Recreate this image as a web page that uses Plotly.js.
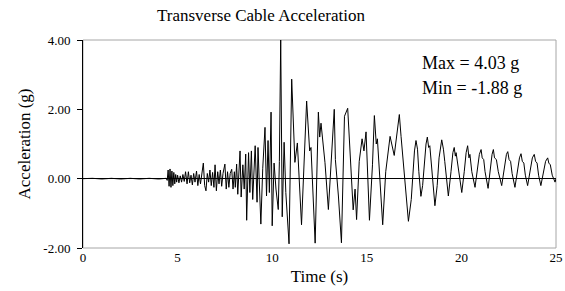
<!DOCTYPE html>
<html>
<head>
<meta charset="utf-8">
<script src="https://cdn.plot.ly/plotly-3.0.1.min.js"></script>
<style>html,body{margin:0;padding:0;background:#fff;}#chart{width:565px;height:291px;}</style>
</head>
<body>
<div id="chart"></div>
<script>
// Time (s) and transverse cable acceleration (g)
const timeS = [
  0, 0.5, 1.0, 1.5, 2.0, 2.5, 3.0, 3.5, 4.0, 4.4,
  4.45, 4.5, 4.55, 4.6, 4.65, 4.7, 4.75, 4.8, 4.85, 4.9, 4.95, 5.0,
  5.07, 5.14, 5.21, 5.28, 5.35, 5.42, 5.5, 5.57, 5.64, 5.71, 5.78, 5.85, 5.92,
  6.0, 6.07, 6.14, 6.21, 6.28, 6.36, 6.43, 6.5, 6.57, 6.64, 6.71, 6.78, 6.85, 6.92,
  6.98, 7.05, 7.12, 7.19, 7.26, 7.33, 7.4, 7.5, 7.57, 7.64, 7.71, 7.78, 7.86, 7.93,
  8.0, 8.05, 8.12, 8.18, 8.3, 8.36, 8.45, 8.52, 8.6, 8.65, 8.75, 8.82, 8.9, 8.97,
  9.1, 9.2, 9.25, 9.4, 9.5, 9.62, 9.7, 9.78, 9.85, 9.94, 10.0, 10.1, 10.2, 10.32, 10.38,
  10.45, 10.53, 10.63, 10.72, 10.89, 11.03, 11.2, 11.33, 11.42, 11.55, 11.82, 11.9, 11.98, 12.05,
  12.27, 12.44, 12.51, 12.58, 12.79, 12.97, 13.1, 13.28, 13.34, 13.5, 13.66, 13.82, 13.99, 14.07,
  14.28, 14.38, 14.46, 14.6, 14.75, 14.85, 14.96, 15.14, 15.3, 15.4, 15.5, 15.56, 15.84, 16.0,
  16.23, 16.45, 16.72, 16.81,
  17.2, 17.35, 17.45, 17.52, 17.6, 17.68, 17.75, 17.86, 17.95, 18.05,
  18.13, 18.2, 18.27, 18.33, 18.42, 18.6, 18.72, 18.82, 18.96, 19.05,
  19.12, 19.31, 19.45, 19.55, 19.62, 19.68, 19.72, 19.85, 20.02, 20.15,
  20.25, 20.33, 20.4, 20.45, 20.55, 20.72, 20.85, 20.95, 21.04, 21.1,
  21.18, 21.25, 21.41, 21.52, 21.62, 21.69, 21.75, 21.85, 21.95, 22.13,
  22.25, 22.38, 22.45, 22.52, 22.6, 22.68, 22.83, 22.95, 23.07, 23.15,
  23.22, 23.3, 23.38, 23.5, 23.62, 23.75, 23.85, 23.92, 24.0, 24.08,
  24.2, 24.32, 24.45, 24.56, 24.62, 24.7, 24.8, 24.95, 25.0
];
const accelG = [
  0, 0.01, -0.01, 0.01, -0.01, 0.01, -0.01, 0.01, -0.01, 0.01,
  -0.05, 0.25, -0.22, 0.28, -0.25, 0.22, -0.2, 0.18, -0.15, 0.12, -0.1, 0.1,
  -0.12, 0.08, -0.1, 0.12, -0.08, 0.2, -0.15, 0.2, -0.12, 0.1, -0.18, 0.15, -0.1,
  0.22, -0.2, 0.12, -0.15, 0.18, 0.45, -0.2, -0.35, 0.15, -0.1, 0.25, -0.2, 0.18, -0.25,
  0.4, -0.35, 0.2, -0.15, 0.25, -0.22, 0.15, 0.42, -0.3, 0.2, -0.25, 0.15, 0.27, -0.3,
  0.2, -0.25, 0.42, -0.45, 0.8, -0.53, 0.4, -0.3, 0.71, -1.2, 0.75, -0.4, 0.8, -0.6,
  0.95, -0.68, 0.9, -1.31, 0.3, 1.48, -0.5, 1.1, -0.4, 1.92, -1.36, 0.45, -0.3, -0.89, 0.5,
  4.03, -1.1, 1.05, -0.4, -1.88, 2.87, 0.47, 1.03, 0.2, -1.33, 2.24, 1.4, 0.8, 0.9,
  -1.86, 1.92, 1.2, 1.6, 0.46, -0.89, 0.3, 2.0, 0.55, -0.5, -1.85, 1.8, 2.03, 1.2,
  -0.9, -0.3, -1.18, 0.5, 1.15, 0.8, 1.35, -1.2, 0.4, 1.82, 1.0, 1.15, -1.33, 0.2,
  1.22, 0.67, 1.85, 1.22,
  -1.23, -0.6, 0.3, 0.8, 1.1, 0.85, 0.2, -0.51, -0.2, 0.6,
  1.0, 1.2, 0.9, 0.95, 0.3, -0.78, -0.2, 0.6, 1.12, 0.85,
  0.5, -0.5, 0.2, 0.75, 0.9, 0.65, 0.75, 0.2, -0.4, 0.2,
  0.75, 0.95, 0.6, 0.7, 0.2, -0.25, 0.3, 0.7, 0.84, 0.6,
  0.55, 0.2, -0.28, 0.25, 0.7, 0.84, 0.6, 0.55, 0.2, -0.2,
  0.3, 0.7, 0.78, 0.55, 0.5, 0.15, -0.25, 0.25, 0.6, 0.72,
  0.5, 0.45, 0.1, -0.2, 0.25, 0.6, 0.7, 0.5, 0.45, 0.1,
  -0.2, 0.2, 0.5, 0.6, 0.45, 0.4, 0.1, -0.1, 0.0
];
const yTickVals = [-2, 0, 2, 4];
const yTickText = ["-2.00", "0.00", "2.00", "4.00"];
const xTickVals = [0, 5, 10, 15, 20, 25];
const titleText = "Transverse Cable Acceleration";
const xTitle = "Time (s)";
const yTitle = "Acceleration (g)";
const statLines = ["Max = 4.03 g", "Min = -1.88 g"];

const font = "Liberation Serif, Times New Roman, serif";

const trace = {
  x: timeS, y: accelG, type: "scatter", mode: "lines",
  line: {color: "#000", width: 1}, hoverinfo: "skip"
};

const layout = {
  width: 565, height: 291,
  margin: {l: 83, r: 9, t: 40, b: 43, pad: 0},
  paper_bgcolor: "#fff", plot_bgcolor: "#fff",
  showlegend: false,
  font: {family: font, color: "#000", size: 13},
  title: {text: titleText, font: {family: font, size: 17, color: "#000"},
          x: 0.462, xref: "container", xanchor: "center",
          y: 0.95, yref: "container", yanchor: "middle"},
  xaxis: {
    range: [0, 25], tickvals: xTickVals, ticktext: xTickVals.map(String),
    showgrid: false, zeroline: false, showline: false, ticks: "",
    tickfont: {family: font, size: 13, color: "#000"},
    title: {text: xTitle, font: {family: font, size: 17, color: "#000"}, standoff: 6}
  },
  yaxis: {
    range: [-2, 4], tickvals: yTickVals, ticktext: yTickText,
    showgrid: false, zeroline: true, zerolinecolor: "#000", zerolinewidth: 1,
    showline: true, linecolor: "#000", linewidth: 1,
    ticks: "outside", ticklen: 5, tickcolor: "#000", tickwidth: 1,
    ticklabelstandoff: 4,
    tickfont: {family: font, size: 13, color: "#000"},
    title: {text: yTitle, font: {family: font, size: 17, color: "#000"}, standoff: 8}
  },
  shapes: [{type: "rect", xref: "paper", yref: "paper", x0: 0, x1: 1, y0: 0, y1: 1,
            line: {color: "#a6a6a6", width: 1}, layer: "below"}],
  annotations: [
    {text: statLines[0], xref: "paper", yref: "paper", x: 0.712, y: 0.889,
     xanchor: "left", yanchor: "middle", showarrow: false,
     font: {family: font, size: 18, color: "#000"}},
    {text: statLines[1], xref: "paper", yref: "paper", x: 0.712, y: 0.769,
     xanchor: "left", yanchor: "middle", showarrow: false,
     font: {family: font, size: 18, color: "#000"}}
  ]
};

Plotly.newPlot("chart", [trace], layout, {displayModeBar: false, staticPlot: true});
</script>
</body>
</html>
